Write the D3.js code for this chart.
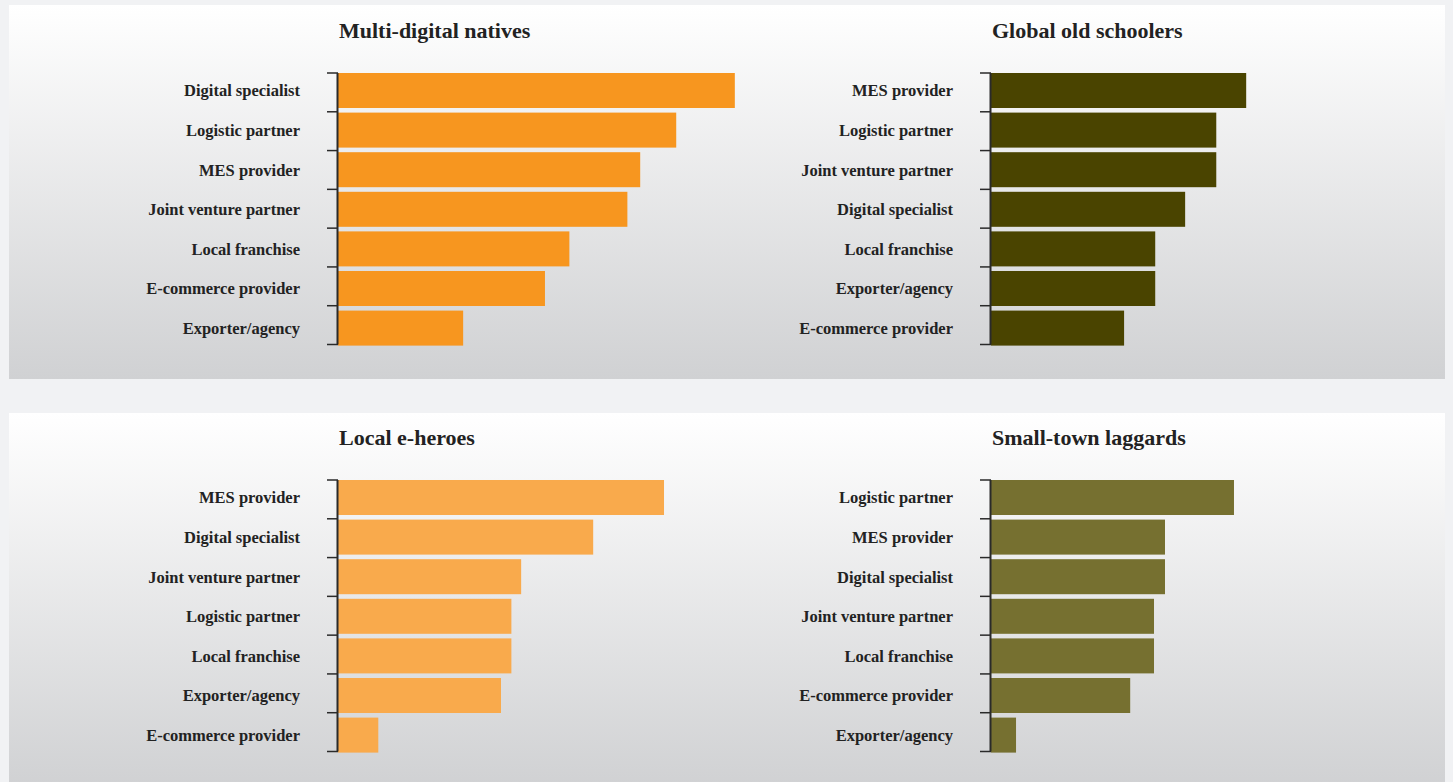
<!DOCTYPE html>
<html>
<head>
<meta charset="utf-8">
<script src="https://cdn.jsdelivr.net/npm/d3@7"></script>
<style>
  html, body { margin: 0; padding: 0; background: #f1f2f4; }
  svg { display: block; }
</style>
</head>
<body>
<svg id="chart" width="1453" height="782"></svg>
<script>
// ---- Data ----
const titles = ["Multi-digital natives", "Global old schoolers", "Local e-heroes", "Small-town laggards"];

const multiDigitalCats = ["Digital specialist", "Logistic partner", "MES provider", "Joint venture partner", "Local franchise", "E-commerce provider", "Exporter/agency"];
const multiDigitalVals = [65, 55.4, 49.5, 47.4, 37.9, 33.9, 20.5];

const globalOldCats = ["MES provider", "Logistic partner", "Joint venture partner", "Digital specialist", "Local franchise", "Exporter/agency", "E-commerce provider"];
const globalOldVals = [41.8, 36.9, 36.9, 31.8, 26.9, 26.9, 21.8];

const localHeroCats = ["MES provider", "Digital specialist", "Joint venture partner", "Logistic partner", "Local franchise", "Exporter/agency", "E-commerce provider"];
const localHeroVals = [53.4, 41.8, 30, 28.4, 28.4, 26.7, 6.6];

const smallTownCats = ["Logistic partner", "MES provider", "Digital specialist", "Joint venture partner", "Local franchise", "E-commerce provider", "Exporter/agency"];
const smallTownVals = [39.8, 28.5, 28.5, 26.7, 26.7, 22.8, 4.1];

const colors = ["#f7961f", "#4a4400", "#f9aa4c", "#767030"];

// ---- Layout ----
const svg = d3.select("#chart");
const defs = svg.append("defs");
const grad = defs.append("linearGradient").attr("id", "bg").attr("x1", 0).attr("y1", 0).attr("x2", 0).attr("y2", 1);
grad.append("stop").attr("offset", "0%").attr("stop-color", "#ffffff");
grad.append("stop").attr("offset", "100%").attr("stop-color", "#d0d1d3");

const panels = [{ y: 5, h: 374 }, { y: 413, h: 374 }];
panels.forEach(p => {
  svg.append("rect").attr("x", 9).attr("y", p.y).attr("width", 1436).attr("height", p.h).attr("fill", "url(#bg)");
});

const x = d3.scaleLinear().domain([0, 100]).range([0, 610.5]);

const charts = [
  { title: titles[0], cats: multiDigitalCats, vals: multiDigitalVals, color: colors[0], ax: 338, top: 73 },
  { title: titles[1], cats: globalOldCats, vals: globalOldVals, color: colors[1], ax: 991, top: 73 },
  { title: titles[2], cats: localHeroCats, vals: localHeroVals, color: colors[2], ax: 338, top: 480 },
  { title: titles[3], cats: smallTownCats, vals: smallTownVals, color: colors[3], ax: 991, top: 480 }
];

const font = "'Liberation Serif', 'Times New Roman', serif";

charts.forEach(c => {
  const g = svg.append("g").attr("transform", `translate(${c.ax},0)`);
  const y = d3.scaleBand().domain(c.cats).range([c.top, c.top + 277.2]).padding(0);
  const yt = d3.scaleBand().domain(c.cats).range([c.top, c.top + 271.5]).padding(0);

  g.append("text")
    .attr("x", 1).attr("y", c.top - 35)
    .attr("font-family", font)
    .attr("font-weight", "bold")
    .attr("font-size", 22)
    .attr("fill", "#222")
    .text(c.title);

  g.selectAll("rect.bar").data(c.cats).enter().append("rect")
    .attr("class", "bar")
    .attr("x", 0)
    .attr("y", d => y(d))
    .attr("width", (d, i) => x(c.vals[i]))
    .attr("height", y.bandwidth() - 4.6)
    .attr("fill", c.color);

  // axis line with ticks at band boundaries
  const bounds = c.cats.map(d => yt(d)).concat([yt.range()[1]]);
  g.selectAll("line.tick").data(bounds).enter().append("line")
    .attr("x1", -11).attr("x2", 0)
    .attr("y1", d => d).attr("y2", d => d)
    .attr("stroke", "#2a2a2a").attr("stroke-width", 1.5);
  g.append("line")
    .attr("x1", -0.5).attr("x2", -0.5)
    .attr("y1", yt.range()[0]).attr("y2", yt.range()[1])
    .attr("stroke", "#2a2a2a").attr("stroke-width", 2);

  g.selectAll("text.lbl").data(c.cats).enter().append("text")
    .attr("class", "lbl")
    .attr("x", -38)
    .attr("y", d => y(d) + (y.bandwidth() - 4.6) / 2)
    .attr("dy", "0.36em")
    .attr("text-anchor", "end")
    .attr("font-family", font)
    .attr("font-weight", "bold")
    .attr("font-size", 16.5)
    .attr("fill", "#222")
    .text(d => d);
});
</script>
</body>
</html>
